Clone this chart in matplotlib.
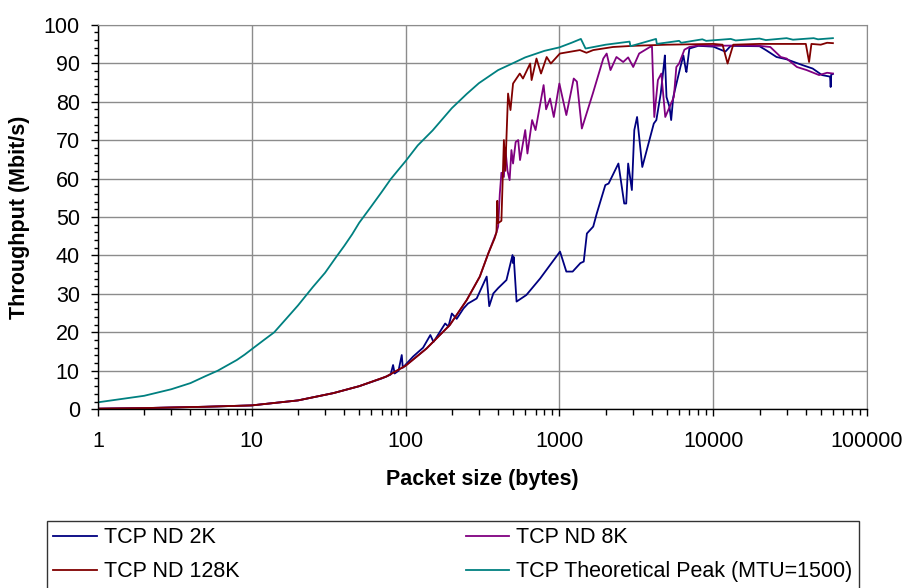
import matplotlib
matplotlib.use("Agg")
import matplotlib.pyplot as plt
from matplotlib.ticker import FixedLocator, FixedFormatter, LogLocator, NullFormatter, MultipleLocator

plt.rcParams['font.family'] = ['Liberation Sans', 'DejaVu Sans']

# packet size (bytes) vs throughput (Mbit/s)
x_2k = [1, 2, 5, 10, 20, 34, 50, 70, 80, 83, 85, 90, 94.5, 96, 112, 130, 145, 152, 181, 190,
        200, 215, 238, 255, 290, 337, 350, 372, 400, 453, 496, 500, 505, 527, 610, 750, 870,
        1010, 1110, 1220, 1370, 1440, 1510, 1660, 1750, 1990, 2090, 2420, 2640, 2720, 2800,
        2960, 3070, 3200, 3460, 4110, 4270, 4560, 4790, 4850, 4970, 5200, 5330, 5500, 6120,
        6400, 6640, 6700, 7000, 8000, 10000, 12000, 13000, 20000, 22000, 25800, 30000, 38000,
        44300, 51000, 57500, 58000, 58500, 60000]
y_2k = [0.15, 0.3, 0.65, 1.0, 2.3, 4.2, 6.0, 8.0, 9.0, 11.5, 9.3, 10.0, 14.1, 10.8, 13.7, 16.0,
        19.3, 17.5, 22.3, 21.5, 24.9, 23.5, 26.2, 27.5, 28.8, 34.5, 26.8, 30.1, 31.5, 33.6,
        40.1, 38.0, 39.6, 28.0, 29.7, 34.0, 37.5, 41.0, 35.8, 35.8, 38.0, 38.4, 45.7, 47.5,
        50.9, 58.3, 58.7, 63.9, 53.5, 53.5, 63.9, 57.0, 72.6, 76.0, 63.0, 74.3, 75.2, 82.1,
        89.9, 92.0, 81.2, 78.6, 75.2, 81.2, 89.0, 92.0, 88.2, 87.7, 93.8, 94.5, 94.3, 93.0,
        94.5, 94.4, 93.4, 91.6, 91.0, 89.5, 88.6, 86.9, 86.5, 83.8, 87.0, 87.2]

x_8k = [1, 2, 5, 10, 20, 34, 50, 75, 100, 137, 194, 250, 304, 345, 390, 400, 410, 420, 436,
        445, 460, 475, 488, 500, 520, 540, 555, 600, 620, 665, 700, 790, 820, 870, 920, 1000,
        1110, 1240, 1300, 1400, 1650, 1930, 2030, 2150, 2350, 2600, 2800, 3020, 3300, 3880,
        4000, 4140, 4370, 4600, 4880, 5550, 5760, 6000, 6500, 7000, 8000, 10000, 15000, 20000,
        23500, 27500, 30000, 35000, 40500, 48800, 55000, 60000]
y_8k = [0.15, 0.3, 0.65, 1.0, 2.3, 4.2, 6.0, 8.5, 11.3, 15.8, 21.9, 28.4, 34.5, 40.5, 46.0,
        47.5, 56.0, 61.5, 60.4, 68.0, 62.0, 59.6, 67.4, 63.9, 69.5, 70.0, 64.8, 72.6, 66.5,
        75.2, 72.6, 84.3, 78.0, 80.8, 76.0, 84.7, 76.5, 86.0, 85.2, 73.0, 82.1, 91.2, 92.5,
        88.2, 91.6, 90.3, 91.5, 89.0, 92.5, 94.2, 94.3, 76.0, 85.6, 87.3, 76.0, 81.2, 89.0,
        89.9, 93.5, 94.2, 94.6, 94.5, 94.6, 94.5, 94.2, 91.6, 91.2, 89.0, 88.2, 86.9, 87.5,
        87.3]

x_128k = [1, 2, 5, 10, 20, 34, 50, 75, 100, 137, 194, 250, 304, 345, 380, 390, 395, 400, 420,
          436, 445, 464, 481, 500, 553, 580, 646, 660, 710, 760, 827, 880, 1008, 1360, 1500,
          1660, 2230, 3000, 5000, 10000, 11500, 12400, 13500, 20000, 40000, 42000, 43500,
          50000, 55000, 60000]
y_128k = [0.15, 0.3, 0.65, 1.0, 2.3, 4.2, 6.0, 8.5, 11.3, 15.8, 21.9, 28.4, 34.5, 40.5, 44.5,
          46.0, 54.2, 48.4, 49.0, 70.0, 62.0, 82.1, 77.8, 84.7, 87.3, 86.0, 89.9, 85.6, 91.2,
          87.3, 91.6, 89.9, 92.5, 93.4, 92.7, 93.4, 94.2, 94.5, 94.8, 95.0, 94.8, 89.9, 94.8,
          95.0, 95.0, 90.3, 95.0, 94.8, 95.3, 95.2]

x_peak = [1, 2, 3, 4, 5, 6, 7, 8, 9, 10, 12, 14, 17, 20, 25, 30, 35, 40, 45, 50, 60, 70, 80,
          90, 100, 120, 150, 200, 250, 300, 400, 500, 600, 800, 1000, 1200, 1380, 1480, 2000,
          2860, 2900, 4250, 4300, 6000, 6200, 8500, 9000, 13000, 14000, 20000, 22000, 30000,
          33000, 45000, 48000, 60000]
y_peak = [1.8, 3.5, 5.2, 6.8, 8.6, 10.0, 11.5, 12.8, 14.2, 15.6, 18.0, 20.0, 23.8, 27.0, 31.8,
          35.5, 39.3, 42.5, 45.5, 48.5, 52.8, 56.5, 59.8, 62.3, 64.5, 68.6, 72.5, 78.3, 82.0,
          84.8, 88.2, 90.0, 91.5, 93.2, 94.1, 95.3, 96.3, 93.8, 94.8, 95.6, 94.4, 96.3, 95.0,
          95.8, 95.3, 96.2, 95.8, 96.3, 95.9, 96.4, 96.0, 96.5, 96.1, 96.5, 96.2, 96.5]

fig = plt.figure(figsize=(9.06, 5.88), dpi=100)
ax = fig.add_axes([0.108, 0.304, 0.849, 0.654])

l1, = ax.plot(x_2k, y_2k, color='#000080', lw=1.3, label='TCP ND 2K')
l2, = ax.plot(x_8k, y_8k, color='#800080', lw=1.3, label='TCP ND 8K')
l3, = ax.plot(x_128k, y_128k, color='#800000', lw=1.3, label='TCP ND 128K')
l4, = ax.plot(x_peak, y_peak, color='#008080', lw=1.3, label='TCP Theoretical Peak (MTU=1500)')

ax.set_xscale('log')
ax.set_xlim(1, 100000)
ax.set_ylim(0, 100)

decades = [1, 10, 100, 1000, 10000, 100000]
ax.xaxis.set_major_locator(FixedLocator(decades))
ax.xaxis.set_major_formatter(FixedFormatter([str(d) for d in decades]))
ax.xaxis.set_minor_locator(LogLocator(base=10, subs=range(2, 10)))
ax.xaxis.set_minor_formatter(NullFormatter())
ax.yaxis.set_major_locator(MultipleLocator(10))
ax.yaxis.set_minor_locator(MultipleLocator(2))

ax.grid(True, which='major', color='#8c8c8c', lw=1.0)
ax.set_axisbelow(True)
for s in ['top', 'right']:
    ax.spines[s].set_color('#8c8c8c')
for s in ['left', 'bottom']:
    ax.spines[s].set_color('black')
    ax.spines[s].set_linewidth(1.0)

ax.tick_params(axis='x', which='major', direction='out', length=5, width=1, labelsize=15.5, pad=11)
ax.tick_params(axis='x', which='minor', direction='out', length=4, width=1)
ax.tick_params(axis='y', which='major', direction='out', length=5, width=1, labelsize=15.5, pad=8)
ax.tick_params(axis='y', which='minor', direction='out', length=3, width=1)

ax.set_xlabel('Packet size (bytes)', fontsize=15.5, fontweight='bold', labelpad=12)
ax.set_ylabel('Throughput (Mbit/s)', fontsize=15.5, fontweight='bold', labelpad=10)

leg = fig.legend([l1, l3, l2, l4], [l1.get_label(), l3.get_label(), l2.get_label(), l4.get_label()],
                 ncol=2, loc='upper left', mode='expand',
                 bbox_to_anchor=(47 / 906, -0.3, 812 / 906, 0.3 + 67 / 588),
                 bbox_transform=fig.transFigure, fontsize=15.5, frameon=True, fancybox=False,
                 edgecolor='black', handlelength=2.0, handletextpad=0.35, labelspacing=0.6,
                 borderaxespad=0, borderpad=0.3)
leg.get_frame().set_linewidth(1.0)

fig.savefig('out.png', dpi=100)
